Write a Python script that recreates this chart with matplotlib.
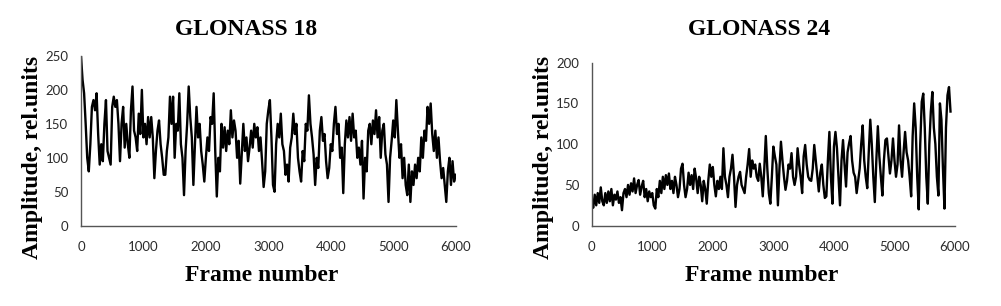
import numpy as np
import matplotlib
matplotlib.use("Agg")
import matplotlib.pyplot as plt

# frame step between read-off points
step = 25

# GLONASS 18 amplitude, frames 0..6000 every 25 frames
glonass18 = [
    250, 215, 195, 150, 100, 80, 120, 175, 185, 170,
    195, 135, 90, 120, 95, 150, 185, 110, 100, 90,
    175, 190, 175, 185, 150, 95, 150, 175, 115, 150,
    120, 100, 170, 205, 140, 130, 110, 165, 135, 200,
    130, 150, 120, 160, 130, 160, 130, 70, 110, 140,
    155, 120, 100, 75, 75, 110, 130, 190, 150, 190,
    100, 150, 140, 195, 120, 100, 45, 110, 150, 205,
    160, 130, 60, 120, 175, 130, 150, 110, 90, 65,
    100, 130, 110, 160, 150, 195, 110, 43, 100, 80,
    150, 115, 145, 110, 140, 120, 170, 130, 155, 140,
    100, 125, 62, 105, 150, 110, 130, 95, 115, 140,
    115, 150, 130, 145, 110, 130, 95, 57, 80, 150,
    170, 185, 130, 60, 50, 120, 150, 130, 165, 120,
    110, 75, 90, 65, 115, 130, 165, 135, 150, 100,
    80, 65, 110, 95, 150, 140, 192, 150, 130, 105,
    60, 100, 85, 140, 160, 125, 135, 95, 70, 85,
    120, 110, 150, 175, 135, 150, 100, 115, 48, 120,
    155, 130, 160, 125, 165, 130, 140, 100, 115, 90,
    125, 40, 100, 80, 140, 150, 120, 155, 135, 170,
    130, 160, 100, 140, 150, 105, 90, 35, 100, 125,
    155, 130, 185, 140, 100, 120, 70, 100, 60, 45,
    90, 35, 80, 60, 90, 70, 100, 80, 130, 100,
    140, 125, 175, 150, 180, 135, 110, 140, 100, 130,
    95, 70, 85, 60, 35, 80, 100, 60, 95, 65,
    75,
]

# GLONASS 24 amplitude, frames 0..5925 every 25 frames
glonass24 = [
    30, 22, 38, 25, 40, 28, 47, 30, 25, 40,
    28, 42, 30, 45, 25, 38, 32, 42, 28, 35,
    19, 40, 45, 35, 50, 38, 52, 42, 58, 40,
    50, 56, 38, 48, 55, 35, 45, 30, 42, 35,
    40, 25, 21, 45, 35, 55, 40, 60, 45, 62,
    50, 64, 45, 55, 40, 60, 50, 35, 45, 70,
    76, 50, 35, 45, 65, 50, 62, 45, 70, 58,
    40, 60, 50, 30, 55, 45, 27, 55, 75, 60,
    72, 50, 36, 55, 45, 60, 45, 95, 60, 50,
    35, 60, 70, 87, 60, 23, 50, 60, 66, 50,
    45, 40, 60, 75, 94, 60, 80, 70, 75, 60,
    55, 76, 60, 36, 70, 110, 70, 40, 27, 60,
    97, 85, 75, 25, 70, 103, 80, 60, 44, 55,
    75, 70, 89, 60, 50, 60, 95, 75, 60, 40,
    85, 99, 75, 60, 56, 55, 70, 99, 80, 60,
    42, 65, 75, 50, 34, 36, 80, 115, 60, 27,
    97, 115, 95, 60, 25, 80, 105, 75, 48, 90,
    101, 110, 80, 65, 60, 40, 55, 70, 100, 123,
    80, 60, 46, 90, 130, 100, 60, 29, 80, 122,
    85, 60, 37, 80, 105, 107, 85, 64, 80, 107,
    80, 60, 75, 123, 80, 60, 90, 115, 90, 80,
    60, 36, 110, 150, 120, 60, 20, 100, 152, 162,
    120, 60, 27, 100, 140, 164, 120, 100, 60, 37,
    150, 130, 70, 21, 120, 160, 170, 140,
]

titles = ["GLONASS 18", "GLONASS 24"]
xticks = [0, 1000, 2000, 3000, 4000, 5000, 6000]
yticks18 = [0, 50, 100, 150, 200, 250]
yticks24 = [0, 50, 100, 150, 200]

serif = dict(family="Liberation Serif", weight="bold", size=17)

fig = plt.figure(figsize=(10.01, 3.06), dpi=100)
ax1 = fig.add_axes([0.0809, 0.2624, 0.3743, 0.5548])
ax2 = fig.add_axes([0.5911, 0.2624, 0.3630, 0.5330])

panels = [
    (ax1, glonass18, yticks18, 250),
    (ax2, glonass24, yticks24, 200),
]

for ax, values, yt, ytop in panels:
    frames = np.arange(len(values)) * step
    ax.plot(frames, values, color="black", lw=1.7)
    ax.set_xlim(0, 6000)
    ax.set_ylim(0, ytop)
    ax.set_xticks(xticks)
    ax.set_yticks(yt)
    for s in ["top", "right"]:
        ax.spines[s].set_visible(False)
    for s in ["left", "bottom"]:
        ax.spines[s].set_color("#555555")
        ax.spines[s].set_linewidth(1.0)
    ax.tick_params(length=0, labelsize=9.5, colors="#2b2b2b")
    ax.tick_params(axis="x", pad=11)
    ax.tick_params(axis="y", pad=9)
    for lab in ax.get_xticklabels() + ax.get_yticklabels():
        lab.set_family("Lato")

fig.text(0.246, 0.902, titles[0], ha="center", va="center", **serif)
fig.text(0.758, 0.902, titles[1], ha="center", va="center", **serif)

fig.text(0.032, 0.487, "Amplitude, rel.units", rotation=90,
         ha="center", va="center", **serif)
fig.text(0.5425, 0.487, "Amplitude, rel.units", rotation=90,
         ha="center", va="center", **serif)

fig.text(0.2612, 0.1, "Frame number", ha="center", va="center", **serif)
fig.text(0.7612, 0.1, "Frame number", ha="center", va="center", **serif)

fig.savefig("out.png", dpi=100)
